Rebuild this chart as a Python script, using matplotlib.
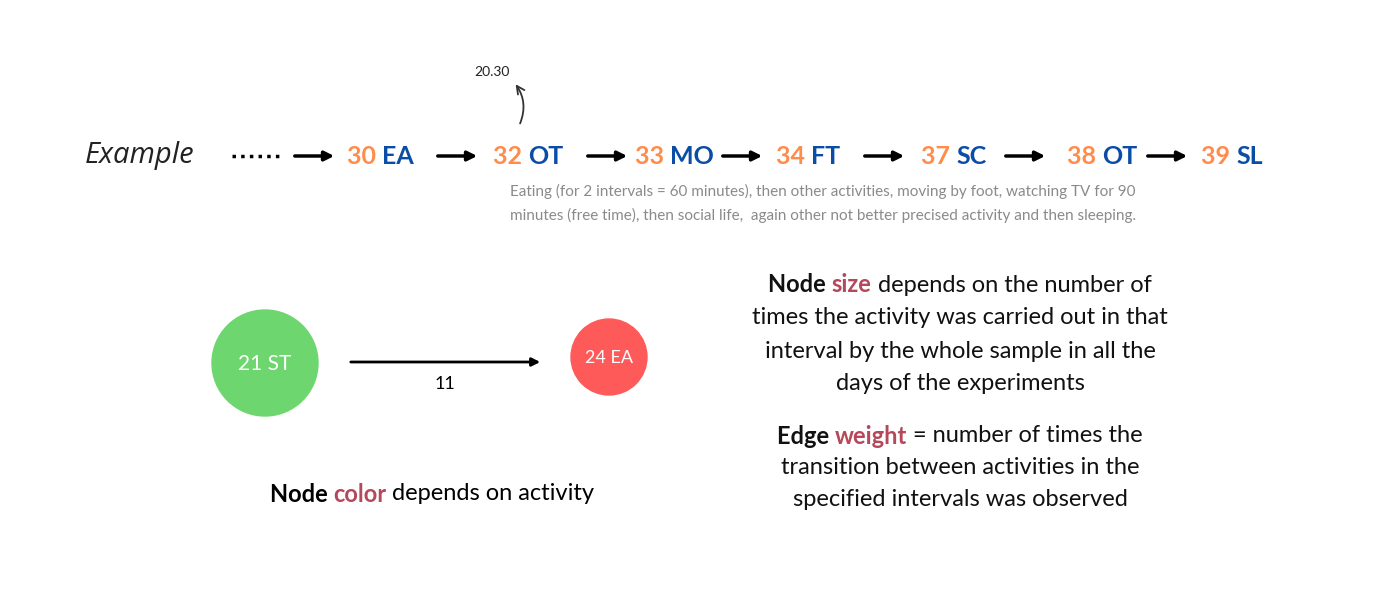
import matplotlib
matplotlib.use("Agg")
import matplotlib.pyplot as plt
from matplotlib.patches import Circle, FancyArrowPatch

nums = [30, 32, 33, 34, 37, 38, 39]
codes = ["EA", "OT", "MO", "FT", "SC", "OT", "SL"]
seq_x = [347, 493, 635, 776, 921, 1067, 1201]
arrows_x = [(292, 337), (435, 480), (585, 630), (720, 765), (862, 907), (1003, 1048), (1145, 1190)]

ORANGE = "#FF8C4B"; BLUE = "#0A4DA6"; HL = "#B5485A"; GRAY = "#8A8A8A"
FONT = "Lato"

fig = plt.figure(figsize=(13.88, 5.9), dpi=100)
ax = fig.add_axes([0, 0, 1, 1])
ax.set_xlim(0, 1388); ax.set_ylim(590, 0); ax.axis("off")
r = fig.canvas.get_renderer()

def width(t):
    return t.get_window_extent(renderer=r).width

def seg_line(parts, xc, y, size, align="center"):
    # parts: list of (text, color, weight)
    ts = [ax.text(0, y, s, color=c, fontweight=w, fontsize=size, family=FONT, va="center", ha="left") for s, c, w in parts]
    ws = [width(t) for t in ts]
    x = xc - sum(ws) / 2 if align == "center" else xc
    for t, w in zip(ts, ws):
        t.set_x(x); x += w

ax.text(85, 156, "Example", fontsize=21, style="italic", family="Open Sans", va="center", color="#222")
ax.plot([232, 282], [156, 156], ls=(0, (1, 1.5)), lw=2.5, color="black")
for a, b in arrows_x:
    ax.annotate("", xy=(b, 156), xytext=(a, 156),
                arrowprops=dict(arrowstyle="-|>", lw=2.5, color="black", mutation_scale=14))
for n, c, x in zip(nums, codes, seq_x):
    seg_line([(f"{n} ", ORANGE, "bold"), (c, BLUE, "bold")], x, 157, 18, align="left")

ax.text(492, 72, "20.30", fontsize=10, ha="center", va="center", color="#222", family=FONT)
ax.add_patch(FancyArrowPatch((519, 126), (514, 82), connectionstyle="arc3,rad=0.3",
                             arrowstyle="->", mutation_scale=14, lw=1.3, color="#333"))

ax.text(823, 191, "Eating (for 2 intervals = 60 minutes), then other activities, moving by foot, watching TV for 90",
        fontsize=11, color=GRAY, ha="center", va="center", family=FONT)
ax.text(823, 215, "minutes (free time), then social life,  again other not better precised activity and then sleeping.",
        fontsize=11, color=GRAY, ha="center", va="center", family=FONT)

ax.add_patch(Circle((265, 363), 53, color="#6ED66E"))
ax.text(265, 364, "21 ST", color="white", fontsize=15, ha="center", va="center", family=FONT)
ax.add_patch(Circle((609, 357), 38, color="#FF5A5A"))
ax.text(609, 358, "24 EA", color="white", fontsize=13, ha="center", va="center", family=FONT)
ax.annotate("", xy=(543, 362), xytext=(348, 362),
            arrowprops=dict(arrowstyle="-|>", lw=2, color="black", mutation_scale=12))
ax.text(445, 384, "11", fontsize=13, ha="center", va="center", family=FONT)

seg_line([("Node ", "black", "bold"), ("color", HL, "bold"), (" depends on activity", "black", "normal")], 432, 494, 17)

K = "#111"
seg_line([("Node ", K, "bold"), ("size", HL, "bold"), (" depends on the number of", K, "normal")], 960, 285, 17)
seg_line([("times the activity was carried out in that", K, "normal")], 960, 318, 17)
seg_line([("interval by the whole sample in all the", K, "normal")], 960, 351, 17)
seg_line([("days of the experiments", K, "normal")], 960, 383, 17)
seg_line([("Edge ", K, "bold"), ("weight", HL, "bold"), (" = number of times the", K, "normal")], 960, 436, 17)
seg_line([("transition between activities in the", K, "normal")], 960, 468, 17)
seg_line([("specified intervals was observed", K, "normal")], 960, 500, 17)

fig.savefig("out.png", dpi=100, facecolor="white")
